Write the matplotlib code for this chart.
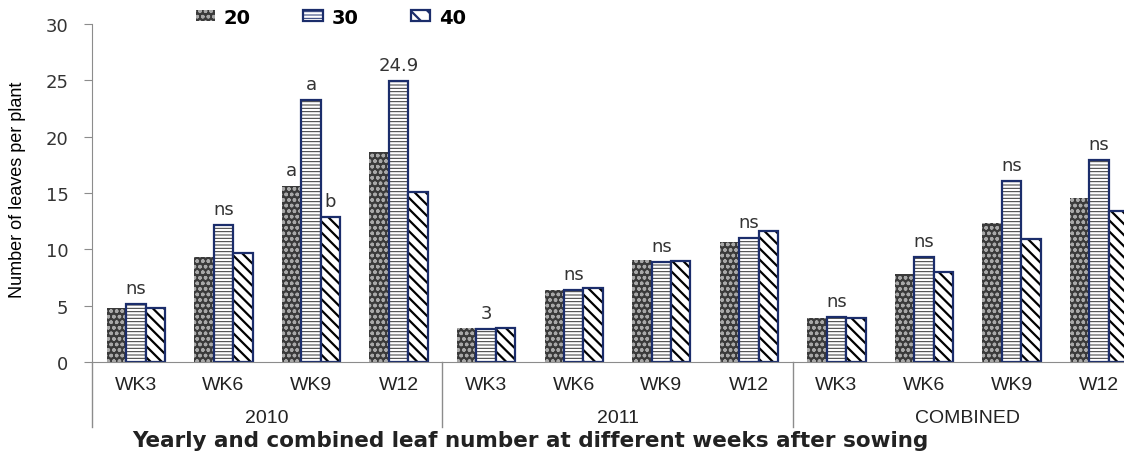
import numpy as np
import matplotlib
matplotlib.use("Agg")
import matplotlib.pyplot as plt
from matplotlib.patches import Patch
from matplotlib import transforms

# values
groups = ["2010", "2011", "COMBINED"]
weeks = ["WK3", "WK6", "WK9", "W12"] * 3
series_names = ["20", "30", "40"]
s20 = [4.8, 9.3, 15.6, 18.6, 3.0, 6.4, 9.05, 10.65, 3.93, 7.8, 12.33, 14.6]
s30 = [5.17, 12.2, 23.25, 24.9, 2.9, 6.35, 8.85, 11.0, 3.97, 9.32, 16.03, 17.95]
s40 = [4.82, 9.65, 12.9, 15.1, 3.0, 6.55, 8.97, 11.65, 3.93, 8.0, 10.94, 13.42]
# significance labels: (category index, series index, text)
marks = [(0, 1, "ns"), (1, 1, "ns"), (2, 0, "a"), (2, 1, "a"), (2, 2, "b"),
         (3, 1, "24.9"), (4, 1, "3"), (5, 1, "ns"), (6, 1, "ns"), (7, 1, "ns"),
         (8, 1, "ns"), (9, 1, "ns"), (10, 1, "ns"), (11, 1, "ns")]

narrow = ["Liberation Sans Narrow", "Liberation Sans", "DejaVu Sans"]

navy = "#1b2d6b"
grey = "#8c8c8c"
hatch_widths = [1.0, 0.7, 1.6]


def hatch_lw(artists, lw):
    # per-artist hatch width where the matplotlib version allows it
    for a in artists:
        if hasattr(a, "set_hatch_linewidth"):
            a.set_hatch_linewidth(lw)


fig = plt.figure(figsize=(11.24, 4.52), dpi=100)
# the axes runs past the right edge, as in the reference
ax = fig.add_axes([92 / 1124, 1 - 363 / 452, 1051 / 1124, 338 / 452])

x = np.arange(len(weeks))
w = 1 / 4.5
vals = [s20, s30, s40]

plt.rcParams["hatch.linewidth"] = hatch_widths[0]
b20 = ax.bar(x - w, s20, w, facecolor="#3a3a3a", edgecolor="#a8a8a8", hatch="ooo", linewidth=0)
plt.rcParams["hatch.linewidth"] = hatch_widths[1]
b30 = ax.bar(x, s30, w, facecolor="white", edgecolor="#333333", hatch="-----", linewidth=0)
hatch_lw(b30, hatch_widths[1])
ax.bar(x, s30, w, fill=False, edgecolor=navy, linewidth=1.6)
plt.rcParams["hatch.linewidth"] = hatch_widths[2]
b40 = ax.bar(x + w, s40, w, facecolor="white", edgecolor="black", hatch="\\\\\\", linewidth=0)
hatch_lw(b40, hatch_widths[2])
ax.bar(x + w, s40, w, fill=False, edgecolor=navy, linewidth=1.6)

for i, j, txt in marks:
    ax.annotate(txt, (x[i] + (j - 1) * w, vals[j][i]), xytext=(0, 16),
                textcoords="offset pixels", ha="center", va="center",
                fontsize=13, color="#333333", family="DejaVu Sans")

ax.set_xlim(-0.5, len(weeks) - 0.5)
ax.set_ylim(0, 30)
ax.set_yticks(np.arange(0, 31, 5))
ax.tick_params(axis="y", length=6, color=grey, labelsize=13, labelcolor="#333333", pad=11)
ax.set_xticks([])
for s in ["top", "right"]:
    ax.spines[s].set_visible(False)
ax.spines["left"].set_color(grey)
ax.spines["bottom"].set_color(grey)

trans = transforms.blended_transform_factory(ax.transData, ax.transAxes)
for b in [-0.5, 3.5, 7.5, 11.5]:
    ax.plot([b, b], [0, -0.192], transform=trans, color=grey, lw=1, clip_on=False)
for i, lab in enumerate(weeks):
    ax.text(x[i], -0.066, lab, transform=trans, ha="center", va="center",
            fontsize=14, color="#222222", family=narrow)
for g, lab in enumerate(groups):
    ax.text(g * 4 + 1.5, -0.163, lab, transform=trans, ha="center", va="center",
            fontsize=14, color="#222222", family=narrow)

fig.text(18 / 1124, 1 - 190 / 452, "Number of leaves per plant", rotation=90,
         ha="center", va="center", fontsize=13, family=narrow, color="black")
fig.text(530 / 1124, 1 - 441 / 452,
         "Yearly and combined leaf number at different weeks after sowing",
         ha="center", va="center", fontsize=15.5, fontweight="bold", color="#222222")

handles = [
    Patch(facecolor="#3a3a3a", edgecolor="#a8a8a8", hatch="ooo", linewidth=0),
    Patch(facecolor="white", edgecolor=navy, hatch="-----", linewidth=1.6),
    Patch(facecolor="white", edgecolor=navy, hatch="\\\\", linewidth=1.6),
]
plt.rcParams["hatch.linewidth"] = 0.8
leg = fig.legend(handles, series_names, loc="center", bbox_to_anchor=(331 / 1124, 1 - 18 / 452),
                 ncol=3, frameon=False, handlelength=1.0, handleheight=0.55,
                 handletextpad=0.45, columnspacing=2.7,
                 prop={"weight": "bold", "size": 14, "family": "DejaVu Sans"})
for p, lw in zip(leg.get_patches(), hatch_widths):
    hatch_lw([p], lw)

fig.savefig("out.png", dpi=100)
